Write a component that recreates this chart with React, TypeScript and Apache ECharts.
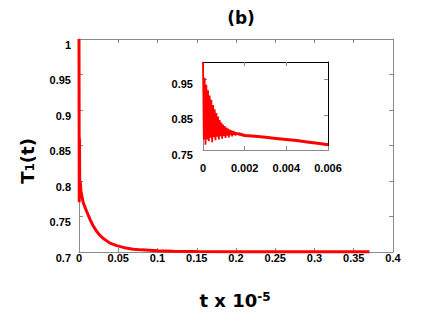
import React, { useEffect, useRef } from 'react';
import * as echarts from 'echarts';

// Main curve T1(t) vs t (x 10^-5)
const mainCurve: [number, number][] = [
  [0, 1.0], [0.0003, 0.77], [0.0006, 0.86], [0.001, 0.775], [0.0015, 0.8],
  [0.0025, 0.785], [0.0055, 0.769], [0.0098, 0.757], [0.014, 0.746],
  [0.018, 0.737], [0.0225, 0.729], [0.027, 0.723], [0.031, 0.719],
  [0.0395, 0.7125], [0.048, 0.709], [0.06, 0.7055], [0.069, 0.704],
  [0.08, 0.703], [0.1, 0.7018], [0.12, 0.7012], [0.15, 0.7006],
  [0.2, 0.7004], [0.25, 0.7003], [0.3, 0.7003], [0.37, 0.7003],
];

// Inset: early oscillating part
const insetOsc: [number, number][] = [
  [0, 1.0], [0.00004, 0.78], [0.00008, 0.955], [0.00012, 0.765],
  [0.00016, 0.935], [0.0002, 0.78], [0.00024, 0.92], [0.00028, 0.775],
  [0.00032, 0.905], [0.00036, 0.785], [0.0004, 0.893], [0.00044, 0.772],
  [0.00048, 0.878], [0.00052, 0.786], [0.00056, 0.866], [0.0006, 0.778],
  [0.00064, 0.855], [0.00068, 0.788], [0.00072, 0.845], [0.00076, 0.78],
  [0.0008, 0.835], [0.00084, 0.789], [0.00088, 0.828], [0.00092, 0.782],
  [0.00096, 0.822], [0.001, 0.79], [0.00104, 0.818], [0.00108, 0.784],
  [0.00112, 0.814], [0.00116, 0.791], [0.0012, 0.811], [0.00124, 0.786],
  [0.00128, 0.808], [0.00132, 0.792], [0.00136, 0.806], [0.0014, 0.789],
  [0.00144, 0.804], [0.00148, 0.793], [0.00152, 0.802], [0.00156, 0.791],
  [0.0016, 0.8], [0.00164, 0.794], [0.00168, 0.799], [0.00172, 0.793],
  [0.00176, 0.798], [0.0018, 0.794],
];

// Inset: smooth tail
const insetTail: [number, number][] = [
  [0.0017, 0.796], [0.002, 0.791], [0.0025, 0.789], [0.003, 0.786],
  [0.0035, 0.783], [0.004, 0.78], [0.0045, 0.777], [0.005, 0.773],
  [0.0055, 0.769], [0.006, 0.765],
];

const insetYLabels = [0.75, 0.85, 0.95];
const insetYRightTicks = [0.85, 0.95];
const insetXTopTicks = [0.002, 0.004];

export default function App() {
  const ref = useRef<HTMLDivElement>(null);
  useEffect(() => {
    const chart = echarts.init(ref.current!, null, { renderer: 'svg' });
    const gray = '#8a8a8a';
    const lab = { fontFamily: 'Liberation Sans', fontWeight: 'bold' as const, fontSize: 11, color: '#000' };
    const titleFont = 'DejaVu Sans';
    const line = (color: string) => ({ show: true, onZero: false, lineStyle: { color } });
    chart.setOption({
      animation: false,
      backgroundColor: '#fff',
      title: {
        text: '(b)', left: 236, top: 4, textAlign: 'center',
        textStyle: { fontFamily: titleFont, fontWeight: 'bold', fontSize: 17, color: '#000' },
      },
      grid: [
        { left: 79, top: 39, width: 314, height: 213 },
        { left: 203, top: 62, width: 125, height: 88, show: true, backgroundColor: '#fff', borderWidth: 0, z: 5 },
      ],
      xAxis: [
        {
          gridIndex: 0, type: 'value', min: 0, max: 0.4, interval: 0.05, position: 'bottom',
          axisLine: line(gray),
          axisTick: { show: true, inside: true, length: 4, lineStyle: { color: gray } },
          axisLabel: { ...lab, margin: 0 }, splitLine: { show: false },
        },
        {
          gridIndex: 0, type: 'value', min: 0, max: 0.4, interval: 0.05, position: 'top',
          axisLine: line(gray),
          axisTick: { show: true, inside: true, length: 4, lineStyle: { color: gray } },
          axisLabel: { show: false }, splitLine: { show: false },
        },
        {
          gridIndex: 1, type: 'value', min: 0, max: 0.006, interval: 0.002, position: 'bottom', z: 6,
          axisLine: line(gray),
          axisTick: { show: true, inside: true, length: 4, lineStyle: { color: gray } },
          axisLabel: { ...lab, margin: 12 }, splitLine: { show: false },
        },
        {
          gridIndex: 1, type: 'value', min: 0, max: 0.006, position: 'top', z: 6,
          axisLine: line('#000'),
          axisTick: { show: true, inside: true, length: 4, customValues: insetXTopTicks, lineStyle: { color: gray } },
          axisLabel: { show: false }, splitLine: { show: false },
        },
      ],
      yAxis: [
        {
          gridIndex: 0, type: 'value', min: 0.7, max: 1.0, interval: 0.05, position: 'left',
          axisLine: line(gray),
          axisTick: { show: true, inside: true, length: 4, lineStyle: { color: gray } },
          axisLabel: { ...lab, margin: 8, verticalAlign: 'top', lineHeight: 11 }, splitLine: { show: false },
        },
        {
          gridIndex: 0, type: 'value', min: 0.7, max: 1.0, interval: 0.05, position: 'right',
          axisLine: line(gray),
          axisTick: { show: true, inside: true, length: 4, lineStyle: { color: gray } },
          axisLabel: { show: false }, splitLine: { show: false },
        },
        {
          gridIndex: 1, type: 'value', min: 0.75, max: 1.0, position: 'left', z: 6,
          axisLine: line(gray),
          axisTick: { show: true, inside: true, length: 4, customValues: insetYLabels, lineStyle: { color: gray } },
          axisLabel: { ...lab, margin: 10, verticalAlign: 'top', lineHeight: 9, customValues: insetYLabels },
          splitLine: { show: false },
        },
        {
          gridIndex: 1, type: 'value', min: 0.75, max: 1.0, position: 'right', z: 6,
          axisLine: line('#000'),
          axisTick: { show: true, inside: true, length: 4, customValues: insetYRightTicks, lineStyle: { color: gray } },
          axisLabel: { show: false }, splitLine: { show: false },
        },
      ],
      series: [
        {
          type: 'line', xAxisIndex: 0, yAxisIndex: 0, data: mainCurve, showSymbol: false,
          lineStyle: { color: '#ff0000', width: 3 }, clip: false, z: 2,
        },
        {
          type: 'line', xAxisIndex: 3, yAxisIndex: 3, data: insetTail, showSymbol: false,
          lineStyle: { color: '#ff0000', width: 3 }, clip: false, z: 7,
        },
        {
          type: 'line', xAxisIndex: 2, yAxisIndex: 2, data: insetOsc, showSymbol: false,
          lineStyle: { color: '#ff0000', width: 1.8 }, clip: false, z: 7,
        },
      ],
      graphic: [
        {
          type: 'text', x: 235, y: 309, z: 10,
          style: {
            text: 't x 10{sup|-5}', fontFamily: titleFont, fontWeight: 'bold', fontSize: 18, fill: '#000',
            align: 'center', verticalAlign: 'bottom',
            rich: { sup: { fontFamily: titleFont, fontWeight: 'bold', fontSize: 12, verticalAlign: 'top' } },
          },
        },
        {
          type: 'text', x: 27, y: 161, rotation: Math.PI / 2, z: 10,
          style: {
            text: 'T{sub|1}(t)', fontFamily: titleFont, fontWeight: 'bold', fontSize: 18, fill: '#000',
            align: 'center', verticalAlign: 'middle',
            rich: { sub: { fontFamily: titleFont, fontWeight: 'bold', fontSize: 12, verticalAlign: 'bottom' } },
          },
        },
      ],
    });
    return () => chart.dispose();
  }, []);
  return <div ref={ref} style={{ position: 'fixed', left: 0, top: 0, width: 436, height: 327 }} />;
}
